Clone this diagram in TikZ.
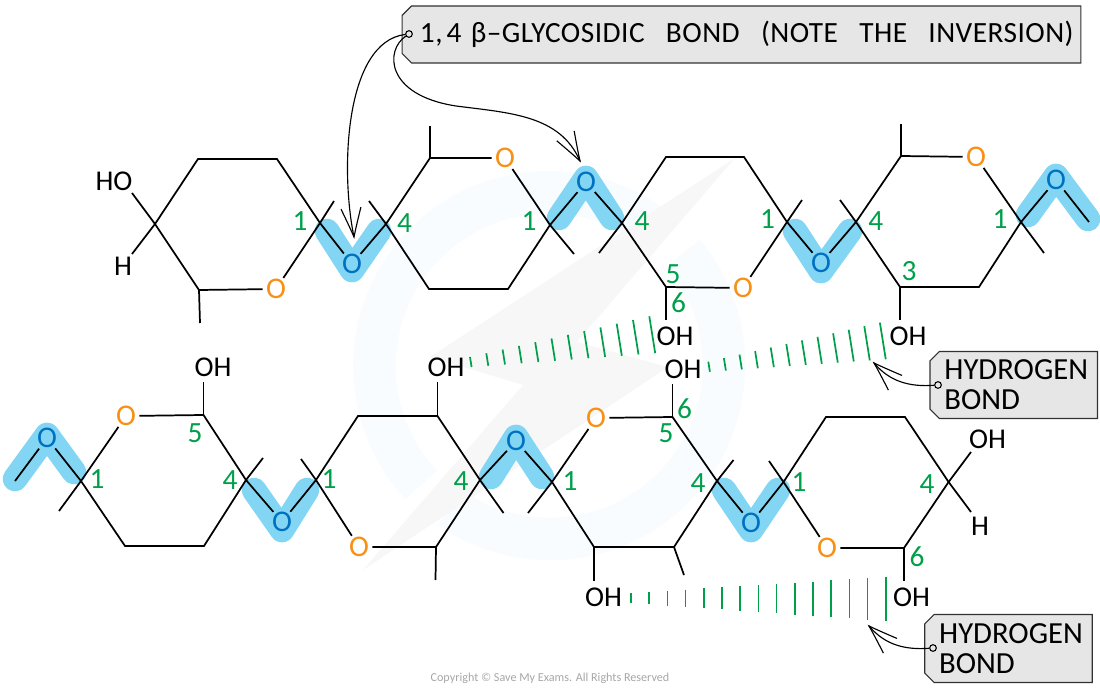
\documentclass[tikz,border=0pt]{standalone}
\usepackage{fontspec}
\setmainfont{Carlito}
\newfontfamily\calloutfont{Carlito}[LetterSpace=1.6,WordSpace=3]
\usetikzlibrary{shapes.misc}
\usepackage{xcolor}

\definecolor{ringorange}{RGB}{247,144,20}
\definecolor{linkblue}{RGB}{0,112,192}
\definecolor{linkglow}{RGB}{130,214,244}
\definecolor{numgreen}{RGB}{0,160,75}
\definecolor{boxgrey}{RGB}{230,230,230}
\definecolor{boxedge}{RGB}{50,50,50}
\definecolor{markblue}{RGB}{248,252,254}
\definecolor{markgrey}{RGB}{247,247,247}

\tikzset{
  bond/.style={line width=1.3pt},
  hbond/.style={numgreen,line width=1.3pt},
  glow/.style={linkglow,line width=18.5pt,line cap=round,line join=round},
  ringo/.style={circle,inner sep=0pt,outer sep=-0.5pt,font=\fontsize{22.5}{26}\selectfont,text=ringorange},
  linko/.style={ringo,text=linkblue},
  atomtext/.style={inner sep=0.75pt,font=\fontsize{21.5}{26}\selectfont},
  carbonno/.style={inner sep=0.75pt,font=\fontsize{22}{26}\selectfont,text=numgreen},
  labelbox/.style={chamfered rectangle,chamfered rectangle corners={north west,south west},
    chamfered rectangle xsep=3.5pt,chamfered rectangle ysep=3.5pt,draw=boxedge,fill=boxgrey,line width=0.8pt,
    inner sep=0pt,align=left},
  labeldot/.style={circle,draw=black,fill=boxgrey,line width=0.8pt,inner sep=0pt,minimum size=5pt},
  leader/.style={line width=0.85pt}
}

\newcommand{\barbtip}[2]{\draw [leader, shift={(#1)}, rotate = #2] (29,-10) .. controls (18,-6) and (8,-2.5) .. (0,0) .. controls (8,2.5) and (18,6) .. (29,10) ;}

\begin{document}
\begin{tikzpicture}[x=0.75pt,y=0.75pt,yscale=-1,xscale=1]
\useasboundingbox (0,0) rectangle (1100,691);

%Watermark ring and bolt
\draw [markblue,line width=32pt] (421.3,485) arc [start angle=137, end angle=306, radius=174];
\draw [markblue,line width=32pt] (450.2,507.5) arc [start angle=125, end angle=-40, radius=174];
\fill [markgrey] (735,158) -- (430,357) -- (523,385) -- (363,570) -- (668,367) -- (577,342) -- cycle;

%Highlighted links
\draw [glow] (327,231) -- (352,270) -- (379,231);
\draw [glow] (559,218) -- (586,178) -- (612,218);
\draw [glow] (795,231) -- (821,271) -- (850,231);
\draw [glow] (1028,215) -- (1056,176) -- (1088,219);
\draw [glow] (15,479) -- (47,435) -- (74,472);
\draw [glow] (254,490) -- (282,530) -- (307,490);
\draw [glow] (491,477) -- (516,437) -- (542,477);
\draw [glow] (724,490) -- (751,530) -- (778,490);

%Carbon positions and free bond ends, upper chain
\foreach \pname/\xx/\yy in {ta/155/224,tb/198/159,tc/277/159,td/320/223,te/199/290,tf/200/323,tg/334/201,th/132/193,ti/132/254,
  ua/386/224,uas/369/201,ub/430/158,ubs/430/126,ud/550/225,ue/508/289,uf/429/289,uds/574/254,
  va/622/223,vas/599/253,vb/666/157,vc/744/157,vd/787/222,vds/802/200,vf/666/287,vfs/666/320,
  wa/856/222,was/840/200,wb/901/156,wbs/901/124,wd/1021/222,wds/1044/253,we/979/287,wf/900/287,wfs/900/320,wg/1089/222}
  \coordinate (\pname) at (\xx,\yy);
%Carbon positions and free bond ends, lower chain
\foreach \pname/\xx/\yy in {aa/15/481,ab/81/481,abs/59/511,ac/203.5/415,acs/203.5/382,ad/246/480,ads/263/458,ae/204/546,af/125/546,
  ba/316/480,bas/301/459,bb/358/416,bc/437.5/416,bcs/437.5/382,bd/480/480,bds/503.5/513,be/436/547,bes/435.5/580,
  ca/552/482,cas/528/513,cb/672.5/417,cbs/672.5/384,cc/717/481,ccs/733.5/460,cd/674/547,cds/684/575,ce/594/547,ces/594/581,
  da/783.5/482,das/769/461,db/826/417,dc/905/417,dd/948.6/482,dh/971/452,di/971/512,de/904/548,des/904/581}
  \coordinate (\pname) at (\xx,\yy);

% Ring oxygens
\node [ringo] (oa) at (276,289) {O};
\node [ringo] (oc) at (505,158) {O};
\node [ringo] (oe) at (743,288) {O};
\node [ringo] (og) at (976,157) {O};
\node [ringo] (oj) at (126,416) {O};
\node [ringo] (ol) at (359,547) {O};
\node [ringo] (on) at (596,418) {O};
\node [ringo] (op) at (827,548) {O};
% Link oxygens
\node [linko] (ob) at (352,264) {O};
\node [linko] (od) at (586,182) {O};
\node [linko] (of) at (821,263) {O};
\node [linko] (oh) at (1056,180) {O};
\node [linko] (oi) at (47,438) {O};
\node [linko] (ok) at (282,522) {O};
\node [linko] (om) at (516,441) {O};
\node [linko] (oo) at (751,523) {O};

%Straight Lines, upper chain
\draw [bond] (ta) -- (tb) -- (tc) -- (td) -- (oa) -- (te) -- (ta);
\draw [bond] (th) -- (ta) -- (ti);
\draw [bond] (te) -- (tf);
\draw [bond] (td) -- (tg);
\draw [bond] (td) -- (ob) -- (ua);
\draw [bond] (ua) -- (ub) -- (oc) -- (ud) -- (ue) -- (uf) -- (ua);
\draw [bond] (uas) -- (ua);
\draw [bond] (ub) -- (ubs);
\draw [bond] (ud) -- (uds);
\draw [bond] (ud) -- (od) -- (va);
\draw [bond] (va) -- (vb) -- (vc) -- (vd) -- (oe) -- (vf) -- (va);
\draw [bond] (vas) -- (va);
\draw [bond] (vf) -- (vfs);
\draw [bond] (vd) -- (vds);
\draw [bond] (vd) -- (of) -- (wa);
\draw [bond] (wa) -- (wb) -- (og) -- (wd) -- (we) -- (wf) -- (wa);
\draw [bond] (was) -- (wa);
\draw [bond] (wb) -- (wbs);
\draw [bond] (wf) -- (wfs);
\draw [bond] (wd) -- (wds);
\draw [bond] (wd) -- (oh) -- (wg);
%Straight Lines, lower chain
\draw [bond] (aa) -- (oi) -- (ab);
\draw [bond] (ab) -- (abs);
\draw [bond] (ab) -- (oj) -- (ac) -- (ad) -- (ae) -- (af) -- (ab);
\draw [bond] (ac) -- (acs);
\draw [bond] (ad) -- (ads);
\draw [bond] (ad) -- (ok) -- (ba);
\draw [bond] (ba) -- (bb) -- (bc) -- (bd) -- (be) -- (ol) -- (ba);
\draw [bond] (bas) -- (ba);
\draw [bond] (bc) -- (bcs);
\draw [bond] (bd) -- (bds);
\draw [bond] (be) -- (bes);
\draw [bond] (bd) -- (om) -- (ca);
\draw [bond] (ca) -- (on) -- (cb) -- (cc) -- (cd) -- (ce) -- (ca);
\draw [bond] (cas) -- (ca);
\draw [bond] (cb) -- (cbs);
\draw [bond] (cc) -- (ccs);
\draw [bond] (cd) -- (cds);
\draw [bond] (ce) -- (ces);
\draw [bond] (cc) -- (oo) -- (da);
\draw [bond] (da) -- (db) -- (dc) -- (dd) -- (de) -- (op) -- (da);
\draw [bond] (das) -- (da);
\draw [bond] (dh) -- (dd) -- (di);
\draw [bond] (de) -- (des);

% Text Node
\node [atomtext] (hoa) at (114,181) {HO};
\node [atomtext] (hxa) at (123,266) {H};
\node [atomtext] (ohe) at (675,336) {OH};
\node [atomtext] (ohg) at (908,336) {OH};
\node [atomtext] (ohj) at (213,367) {OH};
\node [atomtext] (ohl) at (446,367) {OH};
\node [atomtext] (ohn) at (683,369) {OH};
\node [atomtext] (ohc) at (603.5,597) {OH};
\node [atomtext] (ohp) at (911.6,597) {OH};
\node [atomtext] (ohq) at (987.5,439) {OH};
\node [atomtext] (hxq) at (980,526) {H};

% Carbon numbers
\foreach \xx/\yy/\num [count=\i] in {300/221/1,404.6/223/4,529/221/1,642/221/4,673/274/5,678.5/303/6,767.6/219/1,875.7/221/4,909/271/3,1000/219/1,
  97/479/1,195/433/5,230/480/4,329/479/1,461/481/4,570/481/1,684.5/409/6,666/433/5,698/483/4,799/482/1,927/484/4,917/557/6}
  \node [carbonno] (num\i) at (\xx,\yy) {\num};

%Hydrogen bonds
\foreach \i in {0,...,11}
  \draw [hbond] ({470+16.3*\i},{357-3.7*\i}) -- ++({(10+2.45*\i)*0.16},{10+2.45*\i});
\foreach \i in {0,...,11}
  \draw [hbond] ({708.3+15.6*\i},{361.7-3.55*\i}) -- ++({(10+2.42*\i)*0.16},{10+2.42*\i});
\foreach \i in {0,...,14}
  \draw [hbond] ({631+18.2*\i},{593-1.14*\i}) -- ({631+18.2*\i},{603+1.29*\i});

% Callouts
\node [labelbox,minimum width=509pt,minimum height=42.75pt,font=\fontsize{22}{26}\selectfont] (glyclabel) at (741.5,34.5)
  {\hspace*{8pt}\calloutfont 1,\hspace{3pt}4\hspace{7pt}β–GLYCOSIDIC BOND (NOTE THE INVERSION)};
\node [labelbox,minimum width=125.6pt,minimum height=50.25pt,text width=104pt,font=\fontsize{23}{22.5}\selectfont] (hblabela) at (1013.75,385)
  {HYDROGEN\\BOND};
\node [labelbox,minimum width=125.6pt,minimum height=51pt,text width=104pt,font=\fontsize{23}{22.5}\selectfont] (hblabelb) at (1008.5,648.5)
  {HYDROGEN\\BOND};
\node [labeldot] (dota) at (409,34) {};
\node [labeldot] (dotb) at (938,385) {};
\node [labeldot] (dotc) at (933,648) {};

\coordinate (tipa) at (354,237);
\coordinate (tipb) at (580,161);
\coordinate (tipc) at (874,363);
\coordinate (tipd) at (869,626);

%Curve Lines
\draw [leader] (dota) .. controls (345,42) and (340,170) .. (tipa);
\draw [leader] (dota) .. controls (385,50) and (385,95) .. (456,106) .. controls (510,113) and (560,115) .. (tipb);
\draw [leader] (dotb) .. controls (910,387) and (890,382) .. (tipc);
\draw [leader] (dotc) .. controls (905,650) and (885,645) .. (tipd);
\barbtip{tipa}{264}
\barbtip{tipb}{240}
\barbtip{tipc}{43}
\barbtip{tipd}{43}

% Text Node
\node [text=black!35,font=\fontsize{9.1}{11}\selectfont,inner sep=0.75pt] (copyline) at (550,678) {Copyright © Save My Exams. All Rights Reserved};

\end{tikzpicture}
\end{document}
